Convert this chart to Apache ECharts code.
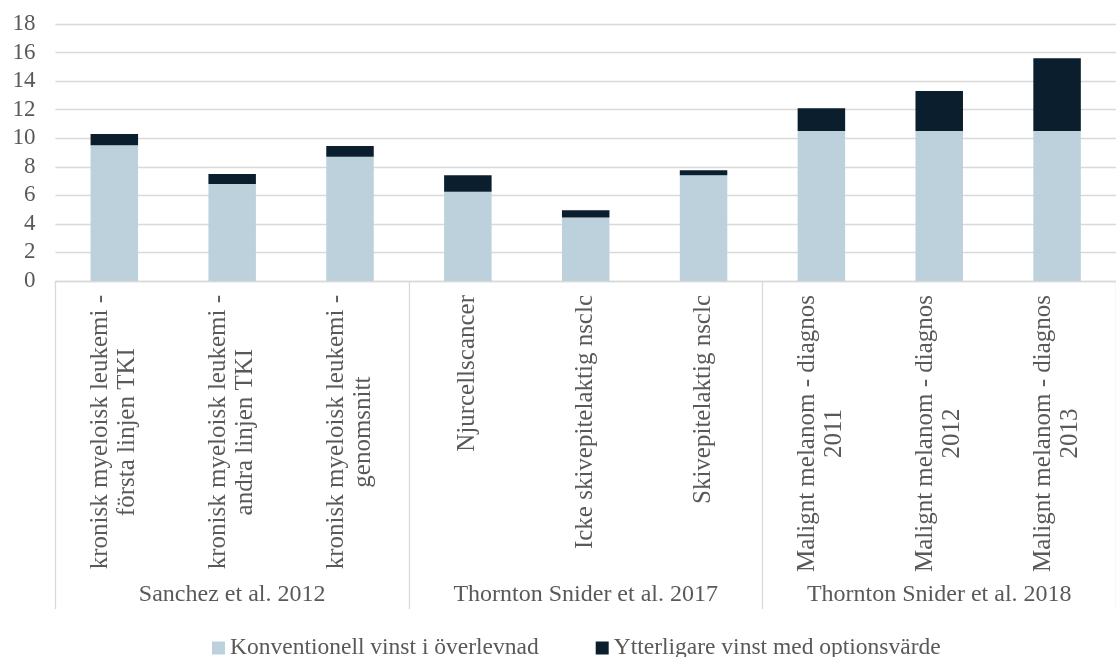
<!DOCTYPE html>
<html>
<head>
<meta charset="utf-8">
<script src="https://cdn.jsdelivr.net/npm/echarts@6/dist/echarts.min.js"></script>
<style>
  html, body { margin: 0; padding: 0; background: #ffffff; }
  #chart { width: 1116px; height: 657px; }
</style>
</head>
<body>
<div id="chart"></div>
<script>
// Categories (inner level) and their study groups (outer level)
const categories = [
  'kronisk myeloisk leukemi -\nförsta linjen TKI',
  'kronisk myeloisk leukemi -\nandra linjen TKI',
  'kronisk myeloisk leukemi -\ngenomsnitt',
  'Njurcellscancer',
  'Icke skivepitelaktig nsclc',
  'Skivepitelaktig nsclc',
  'Malignt melanom - diagnos\n2011',
  'Malignt melanom - diagnos\n2012',
  'Malignt melanom - diagnos\n2013'
];
const groups = ['Sanchez et al. 2012', 'Thornton Snider et al. 2017', 'Thornton Snider et al. 2018'];

const seriesNames = ['Konventionell vinst i överlevnad', 'Ytterligare vinst med optionsvärde'];
const conventional = [9.5, 6.8, 8.7, 6.25, 4.45, 7.4, 10.5, 10.5, 10.5];
const additional   = [0.8, 0.7, 0.75, 1.15, 0.5, 0.35, 1.6, 2.8, 5.1];

const yTicks = { min: 0, max: 18, interval: 2 };

const FONT = '"Liberation Serif", "Times New Roman", serif';
const TEXT = '#595959';
const LINE = '#d9d9d9';

const chart = echarts.init(document.getElementById('chart'), null, { renderer: 'canvas' });

chart.setOption({
  backgroundColor: '#ffffff',
  animation: false,
  textStyle: { fontFamily: FONT, color: TEXT },
  grid: { left: 55.4, top: 24, width: 1073.25, height: 257, containLabel: false },
  legend: {
    data: seriesNames,
    left: 207,
    top: 631,
    icon: 'rect',
    itemWidth: 13,
    itemHeight: 13,
    itemGap: 57,
    textStyle: { fontFamily: FONT, fontSize: 23.5, color: TEXT, lineHeight: 24 }
  },
  xAxis: [
    {
      type: 'category',
      data: categories,
      position: 'bottom',
      axisLine: { show: true, lineStyle: { color: LINE, width: 1.3 } },
      axisTick: { show: false },
      axisLabel: {
        rotate: 90,
        interval: 0,
        margin: 14,
        formatter: v => v.split('\n').map(s => '{c|' + s + '}').join('\n'),
        rich: {
          c: { align: 'center', fontFamily: FONT, fontSize: 25, color: TEXT, lineHeight: 27 }
        }
      },
      splitLine: { show: false }
    },
    {
      type: 'category',
      data: groups,
      position: 'bottom',
      offset: 0,
      axisLine: { show: false },
      axisTick: { show: true, length: 328, lineStyle: { color: LINE, width: 1.3 } },
      axisLabel: {
        interval: 0,
        margin: 302,
        fontFamily: FONT,
        fontSize: 24,
        color: TEXT,
        lineHeight: 24
      },
      splitLine: { show: false }
    }
  ],
  yAxis: {
    type: 'value',
    min: yTicks.min,
    max: yTicks.max,
    interval: yTicks.interval,
    axisLine: { show: false },
    axisTick: { show: false },
    axisLabel: { margin: 20, fontFamily: FONT, fontSize: 23, color: TEXT },
    splitLine: { lineStyle: { color: LINE, width: 1.3 } }
  },
  series: [
    {
      name: seriesNames[0],
      type: 'bar',
      stack: 'total',
      data: conventional,
      barWidth: 47.5,
      itemStyle: { color: '#bcd1dc' }
    },
    {
      name: seriesNames[1],
      type: 'bar',
      stack: 'total',
      data: additional,
      barWidth: 47.5,
      itemStyle: { color: '#0b1e2e' }
    }
  ]
});
</script>
</body>
</html>
